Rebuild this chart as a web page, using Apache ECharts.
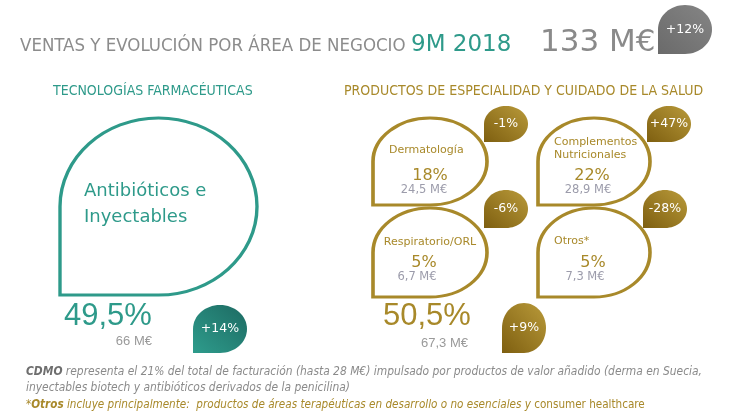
<!DOCTYPE html>
<html>
<head>
<meta charset="utf-8">
<script src="https://cdn.jsdelivr.net/npm/echarts@6/dist/echarts.min.js"></script>
<style>
html, body { margin: 0; padding: 0; background: #fff; }
#chart { width: 735px; height: 414px; }
</style>
</head>
<body>
<div id="chart"></div>
<script>
// datos 9M 2018
var totalSales = 133;
var totalGrowth = 12;
var groupNames = ['TECNOLOGÍAS FARMACÉUTICAS', 'PRODUCTOS DE ESPECIALIDAD Y CUIDADO DE LA SALUD'];
var groupShare = [49.5, 50.5];
var groupSales = [66, 67.3];
var groupGrowth = [14, 9];
var areaNames = ['Antibióticos e\nInyectables', 'Dermatología', 'Complementos\nNutricionales', 'Respiratorio/ORL', 'Otros*'];
var areaShare = [49.5, 18, 22, 5, 5];
var areaSales = [66, 24.5, 28.9, 6.7, 7.3];
var areaGrowth = [14, -1, 47, -6, -28];

// layout (pixeles): caja de cada gota [x0, y0, x1, y1]
var areaBox = [[60, 118, 257, 295], [373, 118, 487, 205], [538, 118, 650, 205], [373, 208, 487, 297], [538, 208, 650, 297]];
var areaBadgeBox = [null, [484, 106, 528, 142], [647, 106, 691, 142], [484, 190, 528, 228], [643, 190, 687, 228]];
var groupBadgeBox = [[193, 305, 247, 353], [502, 303, 546, 353]];
var totalBadgeBox = [658, 5, 712, 54];

var TEAL = '#2e9a8a';
var GOLD = '#a8892a';
var GRAY = '#8c8c8c';
var drop = 'path://M0 100 L0 50 C0 22.4 22.4 0 50 0 C77.6 0 100 22.4 100 50 C100 77.6 77.6 100 50 100 Z';

function num(v) {
    return String(v).replace('.', ',');
}
function pct(v) {
    return (v > 0 ? '+' : '') + v + '%';
}
function center(b) {
    return [(b[0] + b[2]) / 2, (b[1] + b[3]) / 2];
}
function size(b) {
    return [b[2] - b[0], b[3] - b[1]];
}
function grad(c1, c2) {
    return new echarts.graphic.LinearGradient(0, 1, 1, 0, [
        { offset: 0, color: c1 },
        { offset: 1, color: c2 }
    ]);
}

var chart = echarts.init(document.getElementById('chart'));

var outlineData = [];
for (var i = 0; i < areaNames.length; i++) {
    outlineData.push({
        value: center(areaBox[i]),
        symbolSize: size(areaBox[i]),
        itemStyle: { color: '#fff', borderColor: i === 0 ? TEAL : GOLD, borderWidth: 3.2 }
    });
}

var goldGrad = function () { return grad('#7e5f10', '#b99a3a'); };
var badgeData = [];
badgeData.push({
    value: center(totalBadgeBox),
    symbolSize: size(totalBadgeBox),
    growth: totalGrowth,
    itemStyle: { color: grad('#6a6a6a', '#858585') }
});
for (var g = 0; g < groupGrowth.length; g++) {
    badgeData.push({
        value: center(groupBadgeBox[g]),
        symbolSize: size(groupBadgeBox[g]),
        growth: groupGrowth[g],
        itemStyle: { color: g === 0 ? grad('#2e9c8c', '#1d6a62') : goldGrad() }
    });
}
for (var j = 1; j < areaGrowth.length; j++) {
    badgeData.push({
        value: center(areaBadgeBox[j]),
        symbolSize: size(areaBadgeBox[j]),
        growth: areaGrowth[j],
        itemStyle: { color: goldGrad() }
    });
}

var SANS = '"DejaVu Sans", Verdana, sans-serif';
var ARIAL = '"Liberation Sans", Arial, sans-serif';
var NARROW = '"Liberation Sans Narrow", "DejaVu Sans Condensed", sans-serif';
var COND = '"DejaVu Sans Condensed", "DejaVu Sans", sans-serif';

function txt(x, y, text, style) {
    var s = { text: text, fill: GRAY, font: '12px ' + SANS, textVerticalAlign: 'middle' };
    for (var k in style) s[k] = style[k];
    return { type: 'text', x: x, y: y, silent: true, z: 10, style: s };
}

var texts = [];
// cabecera
texts.push(txt(20, 46, 'VENTAS Y EVOLUCIÓN POR ÁREA DE NEGOCIO', { font: '18.5px ' + NARROW, fill: GRAY }));
texts.push(txt(411, 45, '9M 2018', { font: '23px ' + SANS, fill: TEAL }));
texts.push(txt(540, 43, totalSales + ' M€', { font: '31px ' + SANS, fill: '#8a8a8a' }));
texts.push(txt(53, 91, groupNames[0], { font: '14px ' + NARROW, fill: TEAL }));
texts.push(txt(344, 91, groupNames[1], { font: '14px ' + NARROW, fill: GOLD }));

// gota grande
texts.push(txt(84, 204, areaNames[0], { font: '18px ' + SANS, fill: TEAL, lineHeight: 26 }));
texts.push(txt(64, 316, num(groupShare[0]) + '%', { font: '31px ' + ARIAL, fill: TEAL }));
texts.push(txt(152, 341, num(groupSales[0]) + ' M€', { font: '13px ' + ARIAL, fill: '#9a9a9a', textAlign: 'right' }));
texts.push(txt(383, 316, num(groupShare[1]) + '%', { font: '31px ' + ARIAL, fill: GOLD }));
texts.push(txt(468, 343, num(groupSales[1]) + ' M€', { font: '13px ' + ARIAL, fill: '#9a9a9a', textAlign: 'right' }));

// gotas pequeñas
var nameAt = [null, [389, 150, 'left'], [554, 149, 'left'], [430, 242, 'center'], [554, 241, 'left']];
var shareAt = [null, [430, 176], [592, 176], [424, 263], [593, 263]];
var salesAt = [null, [424, 190], [588, 190], [417, 277], [585, 277]];
for (var a = 1; a < areaNames.length; a++) {
    texts.push(txt(nameAt[a][0], nameAt[a][1], areaNames[a], { font: '11px ' + SANS, fill: GOLD, textAlign: nameAt[a][2], lineHeight: 13 }));
    texts.push(txt(shareAt[a][0], shareAt[a][1], num(areaShare[a]) + '%', { font: '16px ' + SANS, fill: GOLD, textAlign: 'center' }));
    texts.push(txt(salesAt[a][0], salesAt[a][1], num(areaSales[a]) + ' M€', { font: '11.5px ' + SANS, fill: '#9c9cab', textAlign: 'center' }));
}

// notas
texts.push({
    type: 'text', x: 26, y: 380, silent: true,
    style: {
        text: '{b|CDMO} representa el 21% del total de facturación (hasta 28 M€) impulsado por productos de valor añadido (derma en Suecia,\ninyectables biotech y antibióticos derivados de la penicilina)',
        font: 'italic 11.9px ' + COND, fill: '#8a8a8a', lineHeight: 16, textVerticalAlign: 'middle',
        rich: { b: { font: 'italic bold 11.9px ' + COND, fill: '#6e6e6e' } }
    }
});
texts.push(txt(26, 405, '{s|*}{b|Otros} incluye principalmente:  productos de áreas terapéuticas en desarrollo o no esenciales y {u|consumer healthcare}', {
    font: 'italic 11.6px ' + COND, fill: GOLD,
    rich: {
        s: { font: '11.6px ' + COND, fill: GOLD },
        b: { font: 'italic bold 11.6px ' + COND, fill: GOLD },
        u: { font: '11.6px ' + COND, fill: GOLD }
    }
}));

var option = {
    animation: false,
    grid: { left: 0, right: 0, top: 0, bottom: 0 },
    xAxis: { type: 'value', min: 0, max: 735, show: false },
    yAxis: { type: 'value', min: 0, max: 414, inverse: true, show: false },
    series: [{
        type: 'scatter',
        symbol: drop,
        data: outlineData,
        itemStyle: { opacity: 1 },
        z: 2,
        silent: true
    }, {
        type: 'scatter',
        symbol: drop,
        data: badgeData,
        itemStyle: { opacity: 1 },
        z: 3,
        silent: true,
        label: {
            show: true,
            position: 'inside',
            color: '#fff',
            fontSize: 12.5,
            fontFamily: SANS,
            formatter: function (p) { return pct(p.data.growth); }
        }
    }],
    graphic: texts
};
chart.setOption(option);
</script>
</body>
</html>
